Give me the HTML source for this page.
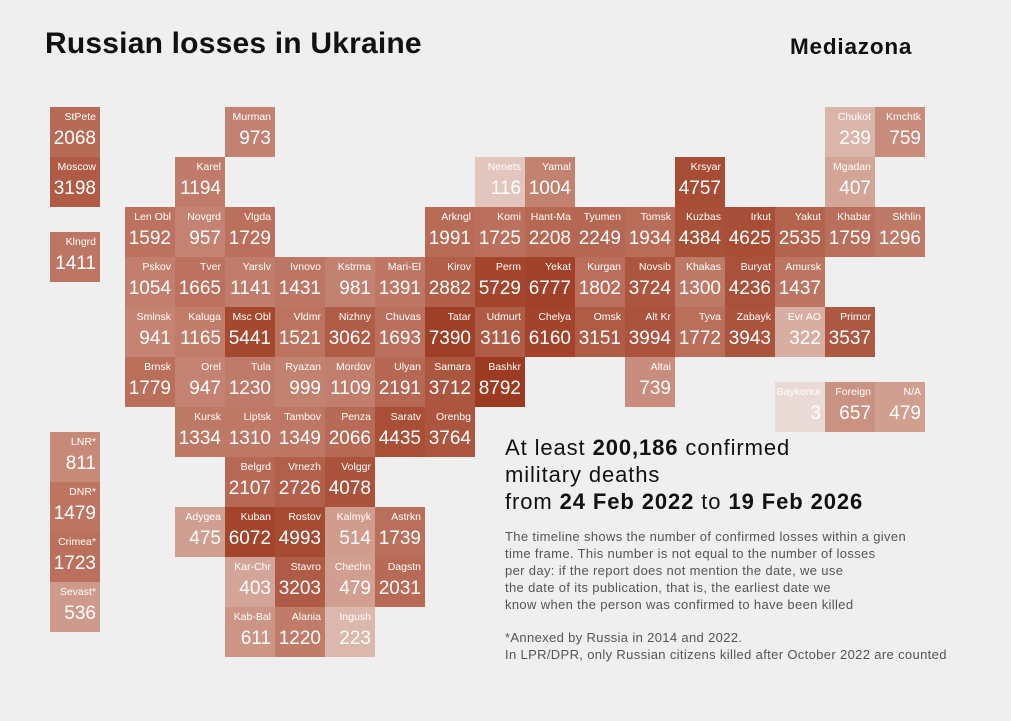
<!DOCTYPE html>
<html><head><meta charset="utf-8"><style>
body{margin:0;width:1011px;height:721px;background:#efefef;font-family:"Liberation Sans",sans-serif;position:relative;overflow:hidden}
.t{position:absolute;width:50px;height:50px;color:#fff;box-sizing:border-box}
.t .n{position:absolute;right:4px;top:4px;font-size:10.5px;white-space:nowrap}
.t .v{position:absolute;right:4px;top:21px;font-size:19px;white-space:nowrap}
#title{position:absolute;left:45px;top:27px;font-size:30px;font-weight:bold;color:#111;letter-spacing:0.2px}
#brand{position:absolute;left:790px;top:34px;font-size:22.5px;font-weight:bold;color:#111;letter-spacing:0.8px}
#head{position:absolute;left:505px;top:434px;font-size:22px;line-height:27px;color:#111;letter-spacing:0.9px}
#para{position:absolute;left:505px;top:528px;font-size:13px;line-height:17px;color:#555;letter-spacing:0.35px}
#note{position:absolute;left:505px;top:629px;font-size:13px;line-height:17px;color:#555;letter-spacing:0.35px}
</style></head><body>
<div id="title">Russian losses in Ukraine</div>
<div id="brand">Mediazona</div>
<div id="map"></div>
<div id="head">At least <b>200,186</b> confirmed<br>military deaths<br>from <b>24 Feb 2022</b> to <b>19 Feb 2026</b></div>
<div id="para">The timeline shows the number of confirmed losses within a given<br>time frame. This number is not equal to the number of losses<br>per day: if the report does not mention the date, we use<br>the date of its publication, that is, the earliest date we<br>know when the person was confirmed to have been killed</div>
<div id="note">*Annexed by Russia in 2014 and 2022.<br>In LPR/DPR, only Russian citizens killed after October 2022 are counted</div>
<script>
const names=["StPete","Murman","Chukot","Kmchtk","Moscow","Karel","Nenets","Yamal","Krsyar","Mgadan","Len Obl","Novgrd","Vlgda","Arkngl","Komi","Hant-Ma","Tyumen","Tomsk","Kuzbas","Irkut","Yakut","Khabar","Skhlin","Klngrd","Pskov","Tver","Yarslv","Ivnovo","Kstrma","Mari-El","Kirov","Perm","Yekat","Kurgan","Novsib","Khakas","Buryat","Amursk","Smlnsk","Kaluga","Msc Obl","Vldmr","Nizhny","Chuvas","Tatar","Udmurt","Chelya","Omsk","Alt Kr","Tyva","Zabayk","Evr AO","Primor","Brnsk","Orel","Tula","Ryazan","Mordov","Ulyan","Samara","Bashkr","Altai","Baykonur","Foreign","N/A","Kursk","Liptsk","Tambov","Penza","Saratv","Orenbg","LNR*","DNR*","Crimea*","Sevast*","Belgrd","Vrnezh","Volggr","Adygea","Kuban","Rostov","Kalmyk","Astrkn","Kar-Chr","Stavro","Chechn","Dagstn","Kab-Bal","Alania","Ingush"];
const values=[2068,973,239,759,3198,1194,116,1004,4757,407,1592,957,1729,1991,1725,2208,2249,1934,4384,4625,2535,1759,1296,1411,1054,1665,1141,1431,981,1391,2882,5729,6777,1802,3724,1300,4236,1437,941,1165,5441,1521,3062,1693,7390,3116,6160,3151,3994,1772,3943,322,3537,1779,947,1230,999,1109,2191,3712,8792,739,3,657,479,1334,1310,1349,2066,4435,3764,811,1479,1723,536,2107,2726,4078,475,6072,4993,514,1739,403,3203,479,2031,611,1220,223];
// grid column (-1.5 = left column) and row
const cols=[-1.5,2,14,15,-1.5,1,7,8,11,14,0,1,2,6,7,8,9,10,11,12,13,14,15,-1.5,0,1,2,3,4,5,6,7,8,9,10,11,12,13,0,1,2,3,4,5,6,7,8,9,10,11,12,13,14,0,1,2,3,4,5,6,7,10,13,14,15,1,2,3,4,5,6,-1.5,-1.5,-1.5,-1.5,2,3,4,1,2,3,4,5,2,3,4,5,2,3,4];
const rows=[0,0,0,0,1,1,1,1,1,1,2,2,2,2,2,2,2,2,2,2,2,2,2,2.5,3,3,3,3,3,3,3,3,3,3,3,3,3,3,4,4,4,4,4,4,4,4,4,4,4,4,4,4,4,5,5,5,5,5,5,5,5,5,5.5,5.5,5.5,6,6,6,6,6,6,6.5,7.5,8.5,9.5,7,7,7,8,8,8,8,8,9,9,9,9,10,10,10];
const stopV=[3,116,322,600,1000,2000,3500,6000,8792];
const stopC=[[234,218,213],[226,198,190],[215,174,162],[204,150,134],[195,129,112],[184,107,87],[173,88,66],[163,68,44],[156,58,34]];
function color(v){const l=Math.log(Math.max(v,1));for(let i=0;i<stopV.length-1;i++){const a=Math.log(stopV[i]),b=Math.log(stopV[i+1]);if(l<=b||i==stopV.length-2){let t=Math.min(1,Math.max(0,(l-a)/(b-a)));const c=stopC[i].map((x,k)=>Math.round(x+(stopC[i+1][k]-x)*t));return `rgb(${c})`;}}}
const map=document.getElementById('map');
names.forEach((n,i)=>{
 const d=document.createElement('div');d.className='t';
 
 
 d.style.left=(125+cols[i]*50)+'px';d.style.top=(107+rows[i]*50)+'px';
 d.style.background=color(values[i]);
 d.innerHTML='<span class="n">'+n+'</span><span class="v">'+values[i]+'</span>';
 map.appendChild(d);
});
</script>
</body></html>
